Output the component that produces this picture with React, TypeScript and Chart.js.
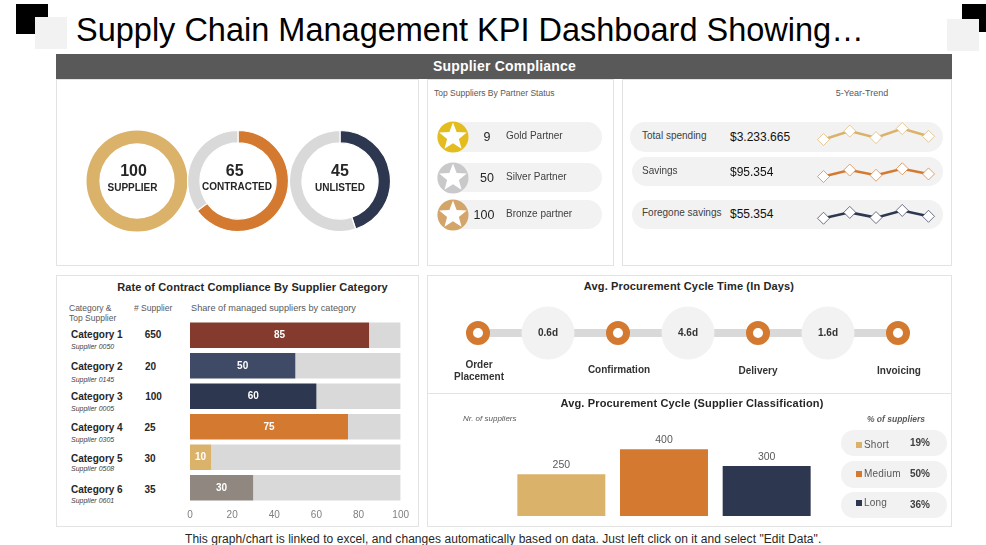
import React, { useEffect, useRef } from "react";
import { Chart, registerables } from "chart.js";

Chart.register(...registerables);
const FONT = '"Liberation Sans", Arial, sans-serif';
Chart.defaults.font.family = FONT;

const GRAY = "#D9D9D9", GOLD = "#DBB26A", ORANGE = "#D47A30", NAVY = "#2E3750";

const donutValues = [100, 65, 45];
const donutNames = ["SUPPLIER", "CONTRACTED", "UNLISTED"];
const donutColors = [GOLD, ORANGE, NAVY];

const partnerCounts = [9, 50, 100];
const partnerNames = ["Gold Partner", "Silver Partner", "Bronze partner"];
const partnerColors = ["#E3BC1E", "#C9C9CB", "#D4A56A"];

const trendYears = ["Y1", "Y2", "Y3", "Y4", "Y5"];
const trendNames = ["Total spending", "Savings", "Foregone savings"];
const trendAmounts = ["$3.233.665", "$95.354", "$55.354"];
const trendSpending = [13, 26, 16, 30, 18];
const trendSavings = [13, 23, 15, 25, 17];
const trendForegone = [15, 24, 16, 27, 18];

const categories = ["Category 1", "Category 2", "Category 3", "Category 4", "Category 5", "Category 6"];
const topSuppliers = ["Supplier 0050", "Supplier 0145", "Supplier 0005", "Supplier 0305", "Supplier 0508", "Supplier 0601"];
const supplierCounts = [650, 20, 100, 25, 30, 35];
const compliance = [85, 50, 60, 75, 10, 30];
const complianceColors = ["#843A2C", "#3F4A66", NAVY, ORANGE, GOLD, "#908880"];

const stages = ["Order\nPlacement", "Confirmation", "Delivery", "Invoicing"];
const stageDays = ["0.6d", "4.6d", "1.6d"];

const classes = ["Short", "Medium", "Long"];
const classCounts = [250, 400, 300];
const classShares = ["19%", "50%", "36%"];
const classColors = [GOLD, ORANGE, NAVY];

type TP = { x: number; y: number; c?: boolean; s: number; b?: boolean; i?: boolean; col?: string; ls?: number; children: React.ReactNode };
function T({ x, y, c, s, b, i, col = "#262626", ls = 0, children }: TP) {
  return (
    <div style={{ position: "absolute", left: x, top: y, transform: c ? "translate(-50%,-50%)" : "translateY(-50%)", fontSize: s, fontWeight: b ? 700 : 400, fontStyle: i ? "italic" : "normal", color: col, letterSpacing: ls, whiteSpace: "nowrap", lineHeight: 1 }}>
      {children}
    </div>
  );
}
function Box({ x, y, w, h, bg, r, border }: { x: number; y: number; w: number; h: number; bg?: string; r?: number; border?: string }) {
  return <div style={{ position: "absolute", left: x, top: y, width: w, height: h, background: bg, borderRadius: r, border, boxSizing: "border-box" }} />;
}
function Cv({ x, y, w, h, config }: { x: number; y: number; w: number; h: number; config: any }) {
  const ref = useRef<HTMLCanvasElement>(null);
  useEffect(() => {
    const ch = new Chart(ref.current!, config);
    return () => ch.destroy();
  }, []);
  return (
    <div style={{ position: "absolute", left: x, top: y, width: w, height: h }}>
      <canvas ref={ref} width={w} height={h} style={{ display: "block", width: w, height: h }} />
    </div>
  );
}
const base = { responsive: false, animation: false, plugins: { legend: { display: false }, tooltip: { enabled: false } } };

function donutCfg(idx: number) {
  const v = donutValues[idx];
  return {
    type: "doughnut",
    data: { labels: [donutNames[idx], "Other"], datasets: [{ data: idx === 0 ? [v] : [v, 100 - v], backgroundColor: [donutColors[idx], GRAY], borderColor: "#fff", borderWidth: idx === 0 ? 0 : 1.2 }] },
    options: { ...base, radius: 50.5, cutout: 39.5 },
  };
}
function sparkCfg(vals: number[], color: string) {
  return {
    type: "line",
    data: { labels: trendYears, datasets: [{ data: vals, borderColor: color, borderWidth: 2.5, tension: 0, clip: false, pointStyle: "rectRot", pointRadius: 6, pointBackgroundColor: "#fff", pointBorderColor: color + "B0", pointBorderWidth: 1 }] },
    options: { ...base, layout: { padding: { left: 13.5, right: 13.5 } }, scales: { x: { display: false }, y: { display: false, min: 0, max: 40 } } },
  };
}
const barLabels = {
  id: "barLabels",
  afterDatasetsDraw(ch: any) {
    const c = ch.ctx;
    ch.getDatasetMeta(0).data.forEach((el: any, i: number) => {
      c.save();
      c.fillStyle = "#fff";
      c.font = `bold 10px ${FONT}`;
      c.textAlign = "center";
      c.textBaseline = "middle";
      c.fillText(String(compliance[i]), (el.base + el.x) / 2, el.y);
      c.restore();
    });
  },
};
const complianceCfg = {
  type: "bar",
  plugins: [barLabels],
  data: {
    labels: categories,
    datasets: [
      { data: compliance, backgroundColor: complianceColors, barPercentage: 0.83, categoryPercentage: 1 },
      { data: compliance.map((v) => 100 - v), backgroundColor: GRAY, barPercentage: 0.83, categoryPercentage: 1 },
    ],
  },
  options: {
    ...base,
    indexAxis: "y",
    layout: { padding: { left: 10, right: 12 } },
    scales: {
      y: { display: false, stacked: true },
      x: {
        stacked: true, min: 0, max: 100,
        grid: { display: false, drawTicks: false }, border: { display: false },
        ticks: { stepSize: 20, color: "#7F7F7F", font: { size: 10 }, padding: 6, maxRotation: 0 },
        afterFit(a: any) { a.height = 20; },
      },
    },
  },
};
const classLabels = {
  id: "classLabels",
  afterDatasetsDraw(ch: any) {
    const c = ch.ctx;
    ch.getDatasetMeta(0).data.forEach((el: any, i: number) => {
      c.save();
      c.fillStyle = "#595959";
      c.font = `10.5px ${FONT}`;
      c.textAlign = "center";
      c.textBaseline = "middle";
      c.fillText(String(classCounts[i]), el.x, el.y - 9);
      c.restore();
    });
  },
};
const classCfg = {
  type: "bar",
  plugins: [classLabels],
  data: { labels: classes, datasets: [{ data: classCounts, backgroundColor: classColors, barPercentage: 0.857, categoryPercentage: 1 }] },
  options: { ...base, scales: { x: { display: false }, y: { display: false, min: 0, max: 600 } } },
};
const seq: string[] = [];
stages.forEach((s, i) => { seq.push(s); if (i < stageDays.length) seq.push(stageDays[i]); });
const timelineLabels = {
  id: "timelineLabels",
  afterDatasetsDraw(ch: any) {
    const c = ch.ctx;
    ch.getDatasetMeta(0).data.forEach((el: any, i: number) => {
      if (i % 2 === 0) return;
      c.save();
      c.fillStyle = "#333";
      c.font = `bold 10px ${FONT}`;
      c.textAlign = "center";
      c.textBaseline = "middle";
      c.fillText(seq[i], el.x, el.y);
      c.restore();
    });
  },
};
const timelineCfg = {
  type: "line",
  plugins: [timelineLabels],
  data: {
    labels: seq,
    datasets: [{
      data: seq.map(() => 1), borderColor: GRAY, borderWidth: 8, clip: false, tension: 0,
      pointRadius: (c: any) => (c.dataIndex % 2 ? 26.5 : 8.5),
      pointBackgroundColor: (c: any) => (c.dataIndex % 2 ? "#F2F2F2" : "#fff"),
      pointBorderColor: (c: any) => (c.dataIndex % 2 ? "#F2F2F2" : ORANGE),
      pointBorderWidth: (c: any) => (c.dataIndex % 2 ? 0 : 7),
    }],
  },
  options: { ...base, layout: { padding: { left: 38, right: 40 } }, scales: { x: { display: false }, y: { display: false, min: 0, max: 2 } } },
};

function Star({ cx, cy, color }: { cx: number; cy: number; color: string }) {
  const pts = Array.from({ length: 10 }, (_, k) => {
    const r = k % 2 ? 6.2 : 14.5;
    const a = (k * Math.PI) / 5 - Math.PI / 2;
    return `${16 + r * Math.cos(a)},${16 + r * Math.sin(a)}`;
  }).join(" ");
  return (
    <svg width={32} height={32} style={{ position: "absolute", left: cx - 16, top: cy - 16 }}>
      <circle cx={16} cy={16} r={15.5} fill={color} />
      <polygon points={pts} fill="#fff" />
    </svg>
  );
}

const BORDER = "1px solid #E3E3E3";
const donutX = [136.5, 238, 340];
const donutNumX = [133.5, 234.7, 340];
const donutNameX = [132.5, 237, 340];
const donutNameY = [188, 186.5, 188];
const partnerY = [137, 178, 214.5];
const partnerPills = [[122, 30], [163, 29], [200, 29]];
const partnerCountX = [487, 487, 484];
const partnerNameY = [136, 177, 214];
const trendPills = [[630, 122, 30], [632, 157, 29], [632, 200, 29]];
const trendNameY = [136, 171, 213];
const trendAmtY = [137, 172, 214];
const trendTop = [115, 152, 195];
const trendSeries = [trendSpending, trendSavings, trendForegone];
const trendColors = [GOLD, ORANGE, NAVY];
const catY = [335, 366.5, 397, 428, 458.5, 490];
const supY = [346, 378.5, 408, 439, 468, 500];
const countX = [153, 150.5, 153.5, 150, 150, 150];
const stageX = [479, 619, 758, 899];
const stageY = [371, 370, 371, 371];
const classPills = [[430, 26], [461, 27], [492, 26]];
const classY = [445, 474, 503];
const shareY = [443, 474, 505];

export default function App() {
  return (
    <div style={{ position: "fixed", left: 0, top: 0, width: 986, height: 545, overflow: "hidden", background: "#fff", fontFamily: FONT }}>
      <Box x={16} y={4} w={32} h={30} bg="#000" />
      <Box x={35} y={17} w={32} h={32} bg="#F2F2F2" />
      <Box x={962} y={4} w={24} h={28} bg="#000" />
      <Box x={947} y={19} w={32} h={32} bg="#F2F2F2" />
      <T x={76} y={30} s={32.5} col="#000">Supply Chain Management KPI Dashboard Showing…</T>

      <Box x={56} y={54} w={896} h={25} bg="#595959" />
      <T x={504.5} y={66} c s={14} b col="#fff" ls={0.2}>Supplier Compliance</T>

      <Box x={56} y={79} w={363} h={187} border={BORDER} />
      <Box x={427} y={79} w={187} h={187} border={BORDER} />
      <Box x={622} y={79} w={330} h={187} border={BORDER} />
      <Box x={56} y={275} w={363} h={252} border={BORDER} />
      <Box x={427} y={275} w={525} h={252} border={BORDER} />
      <Box x={427} y={393} w={525} h={1} bg="#E3E3E3" />

      {donutValues.map((v, i) => (
        <React.Fragment key={i}>
          <Cv x={Math.round(donutX[i] - 53)} y={128} w={106} h={106} config={donutCfg(i)} />
          <T x={donutNumX[i]} y={171} c s={16} b>{v}</T>
          <T x={donutNameX[i]} y={donutNameY[i]} c s={10} b>{donutNames[i]}</T>
        </React.Fragment>
      ))}

      <T x={434} y={93} s={8.5} col="#595959">Top Suppliers By Partner Status</T>
      {partnerCounts.map((v, i) => (
        <React.Fragment key={i}>
          <Box x={437} y={partnerPills[i][0]} w={165} h={partnerPills[i][1]} bg="#F2F2F2" r={15} />
          <Star cx={452.5} cy={partnerY[i]} color={partnerColors[i]} />
          <T x={partnerCountX[i]} y={partnerY[i]} c s={12.5}>{v}</T>
          <T x={506} y={partnerNameY[i]} s={10} col="#404040">{partnerNames[i]}</T>
        </React.Fragment>
      ))}

      <T x={862} y={93} c s={9} col="#595959">5-Year-Trend</T>
      {trendNames.map((n, i) => (
        <React.Fragment key={i}>
          <Box x={trendPills[i][0]} y={trendPills[i][1]} w={943 - trendPills[i][0]} h={trendPills[i][2]} bg="#F2F2F2" r={15} />
          <T x={642} y={trendNameY[i]} s={10} col="#404040">{n}</T>
          <T x={730} y={trendAmtY[i]} s={12} col="#111">{trendAmounts[i]}</T>
          <Cv x={810} y={trendTop[i]} w={132} h={40} config={sparkCfg(trendSeries[i], trendColors[i])} />
        </React.Fragment>
      ))}

      <T x={252.5} y={287} c s={11} b ls={0.1}>Rate of Contract Compliance By Supplier Category</T>
      <T x={69} y={308} s={8.5} col="#595959">Category &amp;</T>
      <T x={69} y={318} s={8.5} col="#595959">Top Supplier</T>
      <T x={134} y={308} s={8.5} col="#595959"># Supplier</T>
      <T x={191} y={309} s={9.2} col="#595959">Share of managed suppliers by category</T>
      {categories.map((n, i) => (
        <React.Fragment key={i}>
          <T x={71} y={catY[i]} s={10} b>{n}</T>
          <T x={71} y={supY[i]} s={7} i col="#404040">{topSuppliers[i]}</T>
          <T x={countX[i]} y={catY[i]} c s={10} b>{supplierCounts[i]}</T>
        </React.Fragment>
      ))}
      <Cv x={180} y={320} w={235} h={203} config={complianceCfg} />

      <T x={689} y={286} c s={11} b ls={0.15}>Avg. Procurement Cycle Time (In Days)</T>
      <Cv x={440} y={300} w={498} h={66} config={timelineCfg} />
      <T x={479} y={365} c s={10} b col="#333">Order</T>
      <T x={479} y={377} c s={10} b col="#333">Placement</T>
      {stages.slice(1).map((n, i) => (
        <T key={i} x={stageX[i + 1]} y={stageY[i + 1]} c s={10} b col="#333">{n}</T>
      ))}

      <T x={692} y={403} c s={11} b ls={0.15}>Avg. Procurement Cycle (Supplier Classification)</T>
      <T x={463} y={419} s={8} i col="#595959">Nr. of suppliers</T>
      <T x={896} y={419} c s={8.5} i b col="#595959">% of suppliers</T>
      <Cv x={510} y={416} w={308} h={100} config={classCfg} />
      {classes.map((n, i) => (
        <React.Fragment key={i}>
          <Box x={841} y={classPills[i][0]} w={106} h={classPills[i][1]} bg="#F2F2F2" r={13} />
          <Box x={856} y={classY[i] - 3} w={6} h={6} bg={classColors[i]} />
          <T x={864} y={classY[i]} s={10} col="#595959" ls={0.2}>{n}</T>
          <T x={910} y={shareY[i]} s={10} b col="#404040">{classShares[i]}</T>
        </React.Fragment>
      ))}

      <T x={185} y={539} s={12} col="#262626" ls={0.055}>This graph/chart is linked to excel, and changes automatically based on data. Just left click on it and select "Edit Data".</T>
    </div>
  );
}
